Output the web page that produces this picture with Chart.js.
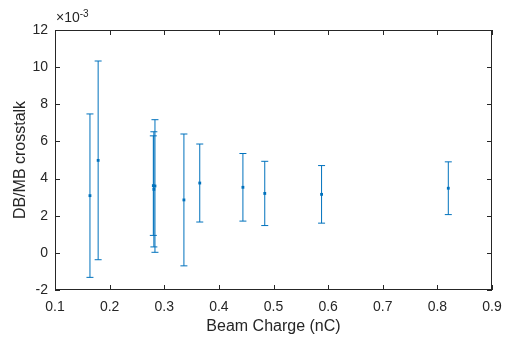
<!DOCTYPE html>
<html>
<head>
<meta charset="utf-8">
<script src="https://cdn.jsdelivr.net/npm/chart.js@4/dist/chart.umd.min.js"></script>
<style>
  html, body { margin: 0; padding: 0; background: #fff; }
  #wrap { width: 506px; height: 338px; }
</style>
</head>
<body>
<div id="wrap"><canvas id="chart" width="506" height="338"></canvas></div>
<script>
// beam charge (nC) and crosstalk (x 1e-3) with symmetric error
const charge    = [0.164, 0.179, 0.280, 0.281, 0.283, 0.336, 0.365, 0.444, 0.484, 0.588, 0.820];
const crosstalk = [3.08, 4.98, 3.62, 3.42, 3.60, 2.85, 3.76, 3.53, 3.20, 3.15, 3.48];
const errBar    = [4.40, 5.35, 2.68, 3.10, 3.57, 3.55, 2.10, 1.82, 1.73, 1.55, 1.42];

const xTicks = [0.1, 0.2, 0.3, 0.4, 0.5, 0.6, 0.7, 0.8, 0.9];
const yTicks = [-2, 0, 2, 4, 6, 8, 10, 12];

const blue = '#0072BD';
const axisColor = '#262626';
const fontFamily = "'Liberation Sans', Arial, sans-serif";

const datasets = charge.map((c, i) => ({
    data: [
        { x: c, y: crosstalk[i] - errBar[i] },
        { x: c, y: crosstalk[i] + errBar[i] }
    ],
    showLine: true,
    borderColor: blue,
    borderWidth: 1,
    pointStyle: 'line',
    pointRadius: 3.5,
    pointBorderColor: blue,
    pointBorderWidth: 1
}));

datasets.push({
    data: charge.map((c, i) => ({ x: c, y: crosstalk[i] })),
    showLine: false,
    pointStyle: 'rect',
    pointRadius: 2,
    backgroundColor: blue,
    borderColor: blue,
    borderWidth: 0
});

// matlab style box, inward ticks on all four sides, and the exponent label
const boxPlugin = {
    id: 'box',
    afterDraw(chart) {
        const { ctx, chartArea: a, scales } = chart;
        ctx.save();
        ctx.strokeStyle = axisColor;
        ctx.lineWidth = 1;
        ctx.strokeRect(Math.round(a.left) + 0.5, Math.round(a.top) + 0.5,
            Math.round(a.right - a.left) - 1, Math.round(a.bottom - a.top) - 1);
        ctx.beginPath();
        xTicks.forEach(v => {
            const px = Math.round(scales.x.getPixelForValue(v)) + 0.5;
            ctx.moveTo(px, a.bottom);
            ctx.lineTo(px, a.bottom - 5);
            ctx.moveTo(px, a.top);
            ctx.lineTo(px, a.top + 5);
        });
        yTicks.forEach(v => {
            const py = Math.round(scales.y.getPixelForValue(v)) + 0.5;
            ctx.moveTo(a.left, py);
            ctx.lineTo(a.left + 5, py);
            ctx.moveTo(a.right, py);
            ctx.lineTo(a.right - 5, py);
        });
        ctx.stroke();

        ctx.fillStyle = axisColor;
        ctx.textBaseline = 'alphabetic';
        ctx.font = '14px ' + fontFamily;
        ctx.fillText('\u00d710', a.left + 1, a.top - 8);
        const w = ctx.measureText('\u00d710').width;
        ctx.font = '10px ' + fontFamily;
        ctx.fillText('-3', a.left + 1 + w, a.top - 13);
        ctx.restore();
    }
};

new Chart(document.getElementById('chart'), {
    type: 'scatter',
    data: { datasets },
    plugins: [boxPlugin],
    options: {
        responsive: false,
        animation: false,
        layout: { padding: { top: 30, right: 14, left: 0, bottom: 0 } },
        plugins: {
            legend: { display: false },
            tooltip: { enabled: false }
        },
        scales: {
            x: {
                type: 'linear',
                min: 0.1,
                max: 0.9,
                afterBuildTicks: s => { s.ticks = xTicks.map(v => ({ value: v })); },
                afterFit: s => { s.height = 48; s.paddingLeft = 0; s.paddingRight = 0; },
                grid: { display: false, drawTicks: false },
                border: { display: false },
                ticks: {
                    color: axisColor,
                    padding: 9,
                    maxRotation: 0,
                    font: { family: fontFamily, size: 14 },
                    callback: v => v.toFixed(1)
                },
                title: {
                    display: true,
                    text: 'Beam Charge (nC)',
                    color: axisColor,
                    padding: { top: 2, bottom: 2 },
                    font: { family: fontFamily, size: 16 }
                }
            },
            y: {
                type: 'linear',
                min: -2,
                max: 12,
                afterBuildTicks: s => { s.ticks = yTicks.map(v => ({ value: v })); },
                afterFit: s => { s.width = 55; s.paddingTop = 0; s.paddingBottom = 0; },
                grid: { display: false, drawTicks: false },
                border: { display: false },
                ticks: {
                    color: axisColor,
                    padding: 7,
                    font: { family: fontFamily, size: 14 }
                },
                title: {
                    display: true,
                    text: 'DB/MB crosstalk',
                    color: axisColor,
                    padding: { top: 11, bottom: 0 },
                    font: { family: fontFamily, size: 16 }
                }
            }
        }
    }
});
</script>
</body>
</html>
